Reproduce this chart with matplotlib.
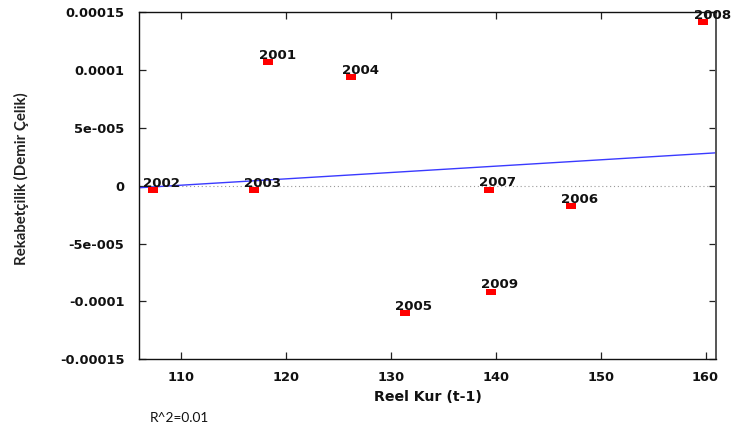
import numpy as np
import matplotlib
matplotlib.use("Agg")
import matplotlib.pyplot as plt
from matplotlib.ticker import FixedLocator

# ---- data ----
years = ["2001", "2002", "2003", "2004", "2005", "2006", "2007", "2008", "2009"]
reel_kur = [118.29, 107.27, 116.92, 126.18, 131.31, 147.16, 139.30, 159.77, 139.52]
rekabet = [1.0675e-4, -0.37e-5, -0.37e-5, 9.40e-5, -1.100e-4, -1.76e-5, -0.35e-5, 1.416e-4, -9.17e-5]
x_ticks = [110, 120, 130, 140, 150, 160]
y_ticks = [-0.00015, -0.0001, -5e-05, 0, 5e-05, 0.0001, 0.00015]
y_tick_labels = ["-0.00015", "-0.0001", "-5e-005", "0", "5e-005", "0.0001", "0.00015"]
x_range = (106.0, 161.0)
y_range = (-0.00015, 0.00015)

fig = plt.figure(figsize=(7.33, 4.32), dpi=100)
ax = fig.add_axes([0.1903, 0.1683, 0.7865, 0.8032])

# regression line (OLS fit of the data)
slope, intercept = np.polyfit(reel_kur, rekabet, 1)
xl = np.array(x_range)
ax.plot(xl, slope * xl + intercept, color="#3a3aff", lw=1.0, zorder=2)

# zero line
ax.axhline(0, color="#999999", lw=0.8, ls=(0, (1, 2.5)), zorder=1)

# markers
rect = [(-1, -0.72), (1, -0.72), (1, 0.72), (-1, 0.72), (-1, -0.72)]
ax.plot(reel_kur, rekabet, ls="none", marker=rect, markersize=6.6,
        color="#ff0000", markeredgewidth=0, zorder=3)

for yr, xv, yv in zip(years, reel_kur, rekabet):
    ax.annotate(yr, (xv, yv), xytext=(9, 3.5), textcoords="offset pixels",
                ha="center", va="baseline", fontsize=9.6, fontweight="bold",
                family="DejaVu Sans", color="#111111", zorder=4)

ax.set_xlim(*x_range)
ax.set_ylim(*y_range)
ax.xaxis.set_major_locator(FixedLocator(x_ticks))
ax.set_yticks(y_ticks)
ax.set_yticklabels(y_tick_labels)
ax.set_xticklabels([str(t) for t in x_ticks])

ax.tick_params(direction="in", length=4.8, width=0.9, color="#222222",
               top=True, right=True, labelsize=9.4)
ax.tick_params(axis="x", pad=8.2)
ax.tick_params(axis="y", pad=10.8)
for lab in ax.get_xticklabels() + ax.get_yticklabels():
    lab.set_fontweight("bold")
    lab.set_color("#111111")

for side in ["left", "bottom", "top"]:
    ax.spines[side].set_linewidth(1.0)
    ax.spines[side].set_color("#111111")
ax.spines["right"].set_linewidth(1.4)
ax.spines["right"].set_color("#555555")

ax.set_xlabel("Reel Kur (t-1)", fontsize=10.2, fontweight="bold", color="#111111")
ax.xaxis.set_label_coords(0.5, -0.108)
ax.xaxis.label.set_va("center")
ax.set_ylabel("Rekabetçilik (Demir Çelik)", fontsize=10.8, fontweight="bold",
              family="Lato", color="#222222")
ax.yaxis.set_label_coords(-0.2055, 0.52)
ax.yaxis.label.set_va("center")

fig.text(150 / 733, 1 - 418 / 432, "R^2=0.01", fontsize=9.8, family="Lato",
         ha="left", va="center", color="#111111")

fig.savefig("out.png", dpi=100)
